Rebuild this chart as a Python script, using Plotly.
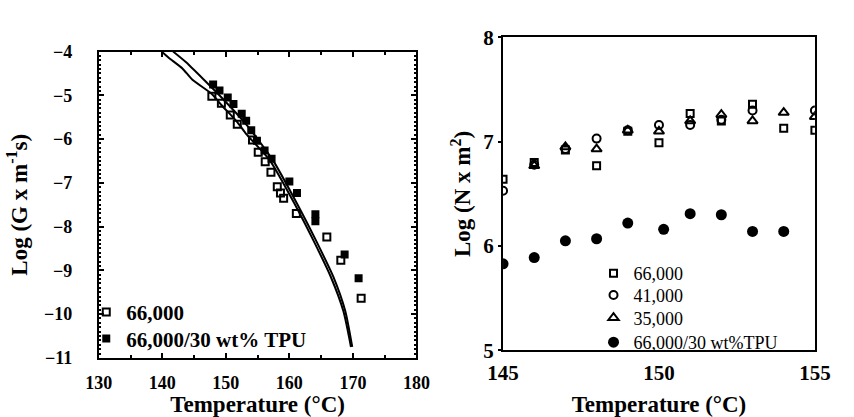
import plotly.graph_objects as go

# ---------- Left panel data ----------
g66_x = [147.8, 149.3, 150.7, 151.8, 154.2, 155.1, 156.2, 157.1, 158.1, 158.6, 159.1, 161.1, 165.9, 168.1, 171.3]
g66_y = [-5.02, -5.18, -5.45, -5.66, -6.02, -6.30, -6.52, -6.76, -7.09, -7.23, -7.35, -7.70, -8.24, -8.77, -9.64]
gtpu_x = [148.0, 149.0, 150.3, 151.2, 152.5, 153.2, 154.0, 154.9, 156.1, 157.2, 160.0, 161.2, 164.1, 164.1, 168.7, 170.9]
gtpu_y = [-4.75, -4.89, -5.05, -5.20, -5.42, -5.58, -5.80, -6.04, -6.26, -6.45, -6.97, -7.23, -7.72, -7.88, -8.64, -9.18]
curveA_x = [139.9, 141.0, 143.2, 144.7, 147.8, 149.3, 151.8, 153.3, 156.9, 160.9, 163.9, 166.5, 168.5, 169.7]
curveA_y = [-4.00, -4.14, -4.39, -4.64, -4.97, -5.22, -5.61, -5.90, -6.48, -7.50, -8.35, -9.14, -9.93, -10.75]
curveB_x = [141.7, 143.7, 146.8, 148.8, 153.3, 157.4, 161.3, 164.3, 166.9, 168.8, 169.9]
curveB_y = [-4.00, -4.24, -4.68, -4.97, -5.68, -6.48, -7.50, -8.35, -9.14, -9.93, -10.75]

# ---------- Right panel data ----------
temps = [145, 146, 147, 148, 149, 150, 151, 152, 153, 154, 155]
n66 = [6.64, 6.80, 6.92, 6.77, 7.10, 6.99, 7.27, 7.20, 7.36, 7.13, 7.11]
t41 = [145, 146, 147, 148, 149, 150, 151, 152, 153, 155]
n41 = [6.53, 6.78, 6.93, 7.03, 7.11, 7.16, 7.16, 7.21, 7.30, 7.30]
n35 = [None, 6.77, 6.95, 6.93, 7.11, 7.10, 7.20, 7.26, 7.20, 7.28, 7.24]
ttpu = [145, 146, 147, 148, 149, 150.15, 151, 152, 153, 154]
ntpu = [5.83, 5.89, 6.05, 6.07, 6.22, 6.16, 6.31, 6.30, 6.14, 6.14]

serif = "Liberation Serif"
fig = go.Figure()

lw = dict(color="black", width=2)
fig.add_trace(go.Scatter(x=curveA_x, y=curveA_y, mode="lines", line=lw, line_shape="spline",
                         line_smoothing=0.6, showlegend=False, xaxis="x", yaxis="y"))
fig.add_trace(go.Scatter(x=curveB_x, y=curveB_y, mode="lines", line=lw, line_shape="spline",
                         line_smoothing=0.6, showlegend=False, xaxis="x", yaxis="y"))
fig.add_trace(go.Scatter(x=g66_x, y=g66_y, mode="markers", name="66,000",
                         marker=dict(symbol="square-open", size=7, color="black", line=dict(width=2)),
                         xaxis="x", yaxis="y", legend="legend"))
fig.add_trace(go.Scatter(x=gtpu_x, y=gtpu_y, mode="markers", name="66,000/30 wt% TPU",
                         marker=dict(symbol="square", size=8, color="black"),
                         xaxis="x", yaxis="y", legend="legend2"))

fig.add_trace(go.Scatter(x=temps, y=n66, mode="markers", name="66,000",
                         marker=dict(symbol="square-open", size=7, color="black", line=dict(width=2)),
                         xaxis="x2", yaxis="y2", legend="legend3"))
fig.add_trace(go.Scatter(x=t41, y=n41, mode="markers", name="41,000",
                         marker=dict(symbol="circle-open", size=8, color="black", line=dict(width=2)),
                         xaxis="x2", yaxis="y2", legend="legend4"))
fig.add_trace(go.Scatter(x=temps, y=n35, mode="markers", name="35,000",
                         marker=dict(symbol="triangle-up-open", size=9, color="black", line=dict(width=2)),
                         xaxis="x2", yaxis="y2", legend="legend5"))
fig.add_trace(go.Scatter(x=ttpu, y=ntpu, mode="markers", name="66,000/30 wt%TPU",
                         marker=dict(symbol="circle", size=11, color="black"),
                         xaxis="x2", yaxis="y2", legend="legend6"))

W, H = 854, 417
tickL = dict(family=serif, size=18, color="black", weight="bold")
tickR = dict(family=serif, size=21, color="black", weight="bold")
titf = dict(family=serif, size=23, color="black", weight="bold")

fontL = dict(family=serif, size=21, color="black", weight="bold")
fontR = dict(family=serif, size=18, color="black")


def leg(xpx, toppx, font):
    return dict(x=xpx/W, y=1-toppx/H, xanchor="left", yanchor="top",
                bgcolor="rgba(0,0,0,0)", font=font, tracegroupgap=0, itemwidth=30)


fig.update_layout(
    width=W, height=H, margin=dict(l=0, r=0, t=0, b=0),
    paper_bgcolor="white", plot_bgcolor="white",
    xaxis=dict(domain=[86/W, 416/W], range=[130, 180], dtick=10, tick0=130, anchor="y",
               showline=True, linewidth=2, linecolor="black", mirror="ticks",
               ticks="inside", ticklen=5, tickwidth=1.5, tickcolor="black",
               minor=dict(dtick=5, ticks="inside", ticklen=3, tickcolor="black"),
               showgrid=False, zeroline=False, tickfont=tickL, ticklabelstandoff=8,
               title=dict(text="Temperature (°C)", font=titf, standoff=2)),
    yaxis=dict(domain=[1-367/H, 1-42/H], range=[-11, -4], dtick=1, anchor="x",
               showline=True, linewidth=2, linecolor="black", mirror="ticks",
               ticks="inside", ticklen=5, tickwidth=1.5, tickcolor="black",
               minor=dict(dtick=0.1, ticks="inside", ticklen=2, tickcolor="black"),
               showgrid=False, zeroline=False, tickfont=tickL, ticklabelstandoff=21,
               title=dict(text="Log (G x m<sup>-1</sup>s)", font=titf, standoff=10)),
    xaxis2=dict(domain=[506/W, 830/W], range=[145, 155], dtick=5, anchor="y2",
                showline=True, linewidth=2, linecolor="black", mirror=True,
                ticks="", showgrid=False, zeroline=False, tickfont=tickR, ticklabelstandoff=2,
                title=dict(text="Temperature (°C)", font=titf, standoff=12)),
    yaxis2=dict(domain=[1-359/H, 1-27/H], range=[5, 8], dtick=1, anchor="x2",
                showline=True, linewidth=2, linecolor="black", mirror=True,
                ticks="outside", ticklen=3, tickwidth=1.5, tickcolor="black",
                showgrid=False, zeroline=False, tickfont=tickR,
                title=dict(text="Log (N x m<sup>2</sup>)", font=titf, standoff=6)),
    legend=leg(73, 297, fontL),
    legend2=leg(73, 325, fontL),
    legend3=leg(600, 258, fontR),
    legend4=leg(600, 281, fontR),
    legend5=leg(600, 305, fontR),
    legend6=leg(600, 331, fontR),
)

fig.write_html("out.html")
